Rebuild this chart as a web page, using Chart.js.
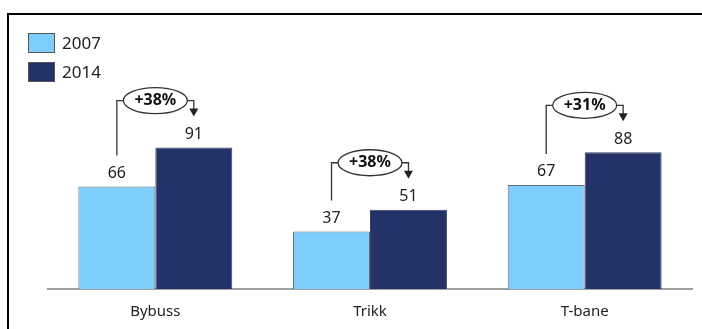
<!DOCTYPE html>
<html>
<head>
<meta charset="utf-8">
<script src="https://cdn.jsdelivr.net/npm/chart.js@4"></script>
<style>
  body { margin: 0; background: #fff; }
  #wrap { position: relative; width: 702px; height: 329px; }
  #frame { position: absolute; left: 7px; top: 13px; right: 0; bottom: 0;
           border-top: 2px solid #000; border-left: 2px solid #000; }
  canvas { position: absolute; left: 0; top: 0; }
</style>
</head>
<body>
<div id="wrap">
  <div id="frame"></div>
  <canvas id="myChart" width="702" height="329"></canvas>
</div>
<script>
const categories = ['Bybuss', 'Trikk', 'T-bane'];
const values2007 = [66, 37, 67];
const values2014 = [91, 51, 88];
const changeLabels = ['+38%', '+38%', '+31%'];

const lightBlue = '#7dcefd';
const darkBlue = '#233368';
const fontFamily = '"Noto Sans", "DejaVu Sans", sans-serif';

const ctx = document.getElementById('myChart');

// value labels, legend and the change arrows between the two bars
const overlay = {
    id: 'overlay',
    afterDatasetsDraw(chart) {
        const c = chart.ctx;
        const m0 = chart.getDatasetMeta(0);
        const m1 = chart.getDatasetMeta(1);
        c.save();

        // value labels
        c.fillStyle = '#222';
        c.font = '16px ' + fontFamily;
        c.textAlign = 'center';
        c.textBaseline = 'middle';
        chart.data.datasets.forEach((ds, di) => {
            chart.getDatasetMeta(di).data.forEach((bar, i) => {
                c.fillText(ds.data[i], bar.x, bar.y - 13);
            });
        });

        // arrows
        m0.data.forEach((b0, i) => {
            const b1 = m1.data[i];
            const cx = (b0.x + b0.width / 2);
            const ey = b1.y - 47;
            const rx = 32, ry = 13;
            c.strokeStyle = '#333';
            c.lineWidth = 1.3;
            c.beginPath();
            c.moveTo(b0.x, b0.y - 31);
            c.lineTo(b0.x, ey);
            c.lineTo(cx - rx, ey);
            c.stroke();
            c.beginPath();
            c.moveTo(cx + rx, ey);
            c.lineTo(b1.x, ey);
            c.lineTo(b1.x, b1.y - 38);
            c.stroke();
            c.fillStyle = '#222';
            c.beginPath();
            c.moveTo(b1.x - 4.5, b1.y - 39);
            c.lineTo(b1.x + 4.5, b1.y - 39);
            c.lineTo(b1.x, b1.y - 31);
            c.closePath();
            c.fill();
            c.fillStyle = '#fff';
            c.beginPath();
            c.ellipse(cx, ey, rx, ry, 0, 0, Math.PI * 2);
            c.fill();
            c.stroke();
            c.fillStyle = '#111';
            c.font = 'bold 16px ' + fontFamily;
            c.fillText(changeLabels[i], cx, ey);
        });

        // legend
        c.textAlign = 'left';
        c.font = '17px ' + fontFamily;
        chart.data.datasets.forEach((ds, di) => {
            const y = 33 + di * 29;
            c.fillStyle = ds.backgroundColor;
            c.fillRect(28, y, 27, 20);
            c.strokeStyle = '#555';
            c.lineWidth = 1;
            c.strokeRect(28.5, y + 0.5, 26, 19);
            c.fillStyle = '#222';
            c.fillText(ds.label, 62, y + 11);
        });
        c.restore();
    }
};

new Chart(ctx, {
    type: 'bar',
    data: {
        labels: categories,
        datasets: [
            {
                label: '2007',
                data: values2007,
                backgroundColor: lightBlue,
                borderColor: '#5a6a7a',
                borderWidth: 1
            },
            {
                label: '2014',
                data: values2014,
                backgroundColor: darkBlue,
                borderColor: '#3a4560',
                borderWidth: 1
            }
        ]
    },
    options: {
        responsive: false,
        animation: false,
        layout: { padding: { left: 48, right: 10, top: 14, bottom: -6 } },
        datasets: { bar: { categoryPercentage: 0.717, barPercentage: 1.0 } },
        scales: {
            x: {
                grid: { display: false, drawTicks: false },
                border: { display: true, color: '#a0a0a0', width: 2 },
                ticks: { padding: 14, color: '#222', font: { family: fontFamily, size: 15 } }
            },
            y: {
                display: false,
                min: 0,
                max: 177
            }
        },
        plugins: {
            legend: { display: false },
            tooltip: { enabled: false }
        }
    },
    plugins: [overlay]
});
</script>
</body>
</html>
